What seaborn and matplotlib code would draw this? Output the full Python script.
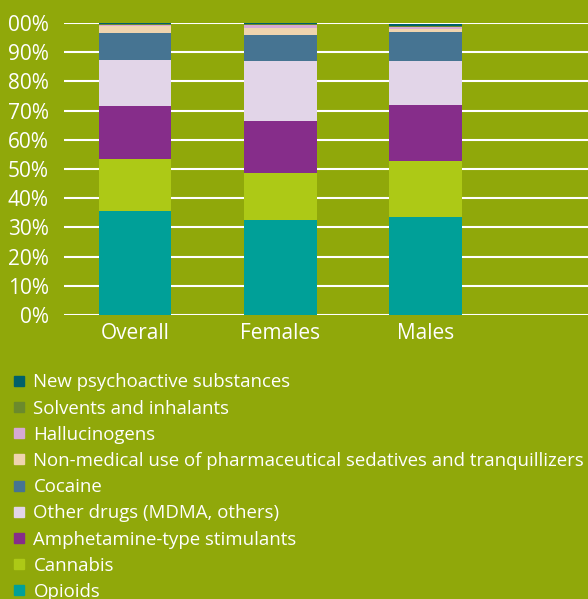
import pandas as pd
import seaborn as sns
import matplotlib.pyplot as plt
from matplotlib.lines import Line2D

# share of treatment by primary drug (%)
groups = ["Overall", "Females", "Males"]
drugs = ["New psychoactive substances", "Solvents and inhalants", "Hallucinogens",
         "Non-medical use of pharmaceutical sedatives and tranquillizers", "Cocaine",
         "Other drugs (MDMA, others)", "Amphetamine-type stimulants", "Cannabis", "Opioids"]
colors = ["#00606a", "#6b8a2c", "#d6a9d4", "#efd4ae", "#467492",
          "#e2d5e8", "#862d8a", "#adc916", "#00a098"]

nps = [0.4, 0.5, 0.8]
solvents = [0.3, 0.3, 0.5]
hallucinogens = [0.4, 0.8, 0.6]
sedatives = [2.3, 2.4, 0.9]
cocaine = [9.3, 9.0, 10.1]
other = [15.7, 20.5, 15.0]
amphetamine = [18.2, 17.8, 19.2]
cannabis = [17.8, 16.2, 19.0]
opioids = [35.6, 32.5, 33.7]

values = [nps, solvents, hallucinogens, sedatives, cocaine, other, amphetamine, cannabis, opioids]
rows = []
for d, vals in zip(drugs, values):
    for g, v in zip(groups, vals):
        rows.append({"group": g, "drug": d, "value": v})
df = pd.DataFrame(rows)

bg = "#90a80a"
sns.set_theme(style="white")
plt.rcParams["font.family"] = ["Open Sans", "DejaVu Sans"]

fig = plt.figure(figsize=(5.88, 5.99), dpi=100, facecolor=bg)
ax = fig.add_axes([64 / 588, 1 - 315 / 599, 524 / 588, 292 / 599])
ax.set_facecolor(bg)

sns.histplot(data=df, x="group", weights="value", hue="drug", hue_order=drugs,
             palette=colors, multiple="stack", discrete=True, shrink=0.5,
             alpha=1, linewidth=0, legend=False, ax=ax)

ax.set_ylim(0, 100)
ax.set_xlim(-0.49, 3.12)
ax.set_yticks(range(0, 101, 10))
ax.set_yticklabels(["0%"] + [f"{t}%" for t in range(10, 100, 10)] + ["00%"])
ax.yaxis.grid(True, color="white", linewidth=1.5)
ax.set_axisbelow(True)
ax.tick_params(axis="y", colors="white", labelsize=15, length=0, pad=11)
ax.tick_params(axis="x", colors="white", labelsize=15, length=0, pad=6)
ax.set_xlabel("")
ax.set_ylabel("")
for s in ax.spines.values():
    s.set_visible(False)

handles = [Line2D([], [], marker="s", linestyle="", markersize=7.5, color=c) for c in colors]
leg = fig.legend(handles, drugs, loc="upper left", bbox_to_anchor=(0.0, 1 - 366 / 599),
                 frameon=False, fontsize=13.4, labelcolor="white", handletextpad=0.2,
                 labelspacing=0.44, borderaxespad=0, handlelength=1.2)

fig.savefig("out.png", dpi=100, facecolor=bg)
